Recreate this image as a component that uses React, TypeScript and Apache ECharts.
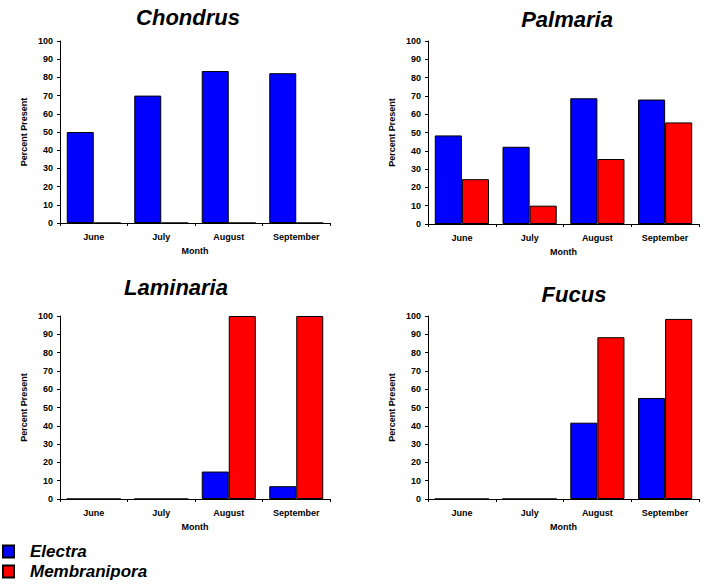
import React, { useEffect, useRef } from "react";
import * as echarts from "echarts";

const months = ["June", "July", "August", "September"];
const seriesNames = ["Electra", "Membranipora"];
const seriesColors = ["#0000FF", "#FF0000"];
const yTicks = [0, 10, 20, 30, 40, 50, 60, 70, 80, 90, 100];

const panelTitles = ["Chondrus", "Palmaria", "Laminaria", "Fucus"];

const chondrusElectra = [50, 70, 83.5, 82.3];
const chondrusMembranipora = [0, 0, 0, 0];
const palmariaElectra = [48.4, 42.2, 68.7, 68];
const palmariaMembranipora = [24.5, 10, 35.5, 55.5];
const laminariaElectra = [0, 0, 15, 7];
const laminariaMembranipora = [0, 0, 100, 100];
const fucusElectra = [0, 0, 41.7, 55.2];
const fucusMembranipora = [0, 0, 88.4, 98.4];

const panelData = [
  [chondrusElectra, chondrusMembranipora],
  [palmariaElectra, palmariaMembranipora],
  [laminariaElectra, laminariaMembranipora],
  [fucusElectra, fucusMembranipora],
];

const FONT = "Arial, 'Liberation Sans', sans-serif";

export default function App() {
  const ref = useRef<HTMLDivElement>(null);
  useEffect(() => {
    if (!ref.current) return;
    const chart = echarts.init(ref.current, null, { renderer: "svg" });

    const grids = [
      { left: 60, top: 41, width: 270, height: 182 },
      { left: 428, top: 41, width: 271, height: 183 },
      { left: 60, top: 316, width: 270, height: 183 },
      { left: 428, top: 316, width: 271, height: 183 },
    ];
    const titlePos = [
      { x: 188, y: 6 },
      { x: 567, y: 8 },
      { x: 176, y: 276 },
      { x: 574, y: 283 },
    ];

    const axisLine = { show: true, lineStyle: { color: "#000", width: 1 } };
    const labelStyle = { fontFamily: FONT, fontWeight: "bold" as const, fontSize: 9, color: "#000" };

    const xAxis = grids.map((_, i) => ({
      type: "category" as const,
      gridIndex: i,
      data: months,
      axisLine,
      axisTick: { show: true, length: 3, lineStyle: { color: "#000" } },
      axisLabel: { ...labelStyle, margin: 9 },
      name: "Month",
      nameLocation: "middle" as const,
      nameGap: 23,
      nameTextStyle: labelStyle,
    }));
    const yAxis = grids.map((_, i) => ({
      type: "value" as const,
      gridIndex: i,
      min: yTicks[0],
      max: yTicks[yTicks.length - 1],
      interval: 10,
      axisLine,
      axisTick: { show: true, length: 3, lineStyle: { color: "#000" } },
      axisLabel: { ...labelStyle, margin: 7 },
      splitLine: { show: false },
      name: "Percent Present",
      nameLocation: "middle" as const,
      nameRotate: 90,
      nameGap: 32,
      nameTextStyle: labelStyle,
    }));

    const series: any[] = [];
    panelData.forEach((pair, gi) => {
      pair.forEach((vals, si) => {
        series.push({
          type: "bar",
          name: seriesNames[si],
          xAxisIndex: gi,
          yAxisIndex: gi,
          data: vals,
          barGap: "0%",
          barCategoryGap: "20%",
          itemStyle: { color: seriesColors[si], borderColor: "#000", borderWidth: 1 },
        });
      });
    });

    chart.setOption({
      animation: false,
      backgroundColor: "#fff",
      title: panelTitles.map((t, i) => ({
        text: t,
        left: titlePos[i].x,
        top: titlePos[i].y,
        textAlign: "center",
        padding: 0,
        textStyle: {
          fontFamily: FONT,
          fontWeight: "bold",
          fontStyle: "italic",
          fontSize: 22,
          color: "#000",
        },
      })),
      legend: {
        data: seriesNames,
        orient: "vertical",
        left: 2,
        top: 543,
        padding: 0,
        itemWidth: 11,
        itemHeight: 12,
        itemGap: 3,
        icon: "rect",
        selectedMode: false,
        textStyle: {
          fontFamily: FONT,
          fontWeight: "bold",
          fontStyle: "italic",
          fontSize: 17,
          color: "#000",
          padding: [0, 0, 0, 11],
        },
      },
      grid: grids,
      xAxis,
      yAxis,
      series,
    });
    return () => chart.dispose();
  }, []);
  return (
    <div
      ref={ref}
      style={{ position: "fixed", left: 0, top: 0, width: 720, height: 587 }}
    />
  );
}
